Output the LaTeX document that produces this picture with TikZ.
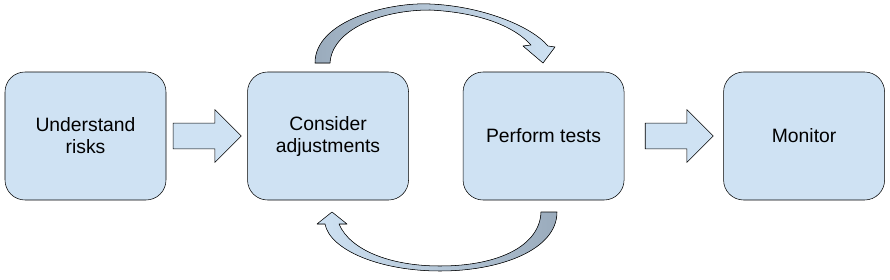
\documentclass[tikz,border=0pt]{standalone}
\usepackage{fontspec}
\setmainfont{Liberation Sans}
\usepackage{tikz}
\usetikzlibrary{arrows.meta,positioning,shapes.arrows,calc}
\definecolor{Sky}{HTML}{CFE2F3}
\definecolor{Slate}{HTML}{9AABBC}

\begin{document}
\begin{tikzpicture}[
    x=0.75pt,y=-0.75pt,
    flowbox/.style={draw=black,rounded corners=15pt,fill=Sky,align=center,
      minimum width=120.75pt,minimum height=96pt,inner sep=4pt,
      font=\fontsize{14.5}{16.5}\selectfont},
    blockarrow/.style={single arrow,draw=black,fill=Sky,minimum height=51pt,
      inner sep=9.4pt,single arrow head extend=10.1pt},
    bendarrow/.style={draw=black,line join=round}
]
\useasboundingbox (0,0) rectangle (890,279);

\node[flowbox] (risks) at (85.5,136) {Understand\\risks};
\node[flowbox,right=60.75pt of risks] (adjust) {Consider\\adjustments};
\node[flowbox,right=40.5pt of adjust] (tests) {Perform tests};
\node[flowbox,right=74.25pt of tests] (monitor) {Monitor};

\node[blockarrow,xshift=-4.5pt] (r2a) at ($(risks.east)!0.5!(adjust.west)$) {};
\node[blockarrow,xshift=-0.75pt] (t2m) at ($(tests.east)!0.5!(monitor.west)$) {};

% curved arrows between the middle boxes
\fill[bendarrow,left color=Slate,right color=Sky]
  (315,63) .. controls (315,20) and (390,2) .. (430,4)
  .. controls (480,6) and (530,25) .. (548,46)
  -- (555,47) -- (543,63) -- (523,46) -- (531,45)
  .. controls (510,22) and (470,12) .. (430,10)
  .. controls (380,10) and (332,30) .. (330,63) -- cycle;
\fill[bendarrow,left color=Sky,right color=Slate]
  (557,212) .. controls (557,250) and (500,271) .. (440,271)
  .. controls (380,271) and (330,250) .. (325,224)
  -- (317,224) -- (332,212) -- (347,224) -- (339,224)
  .. controls (350,250) and (390,266) .. (440,266)
  .. controls (500,266) and (540,245) .. (541,212) -- cycle;
\end{tikzpicture}
\end{document}
